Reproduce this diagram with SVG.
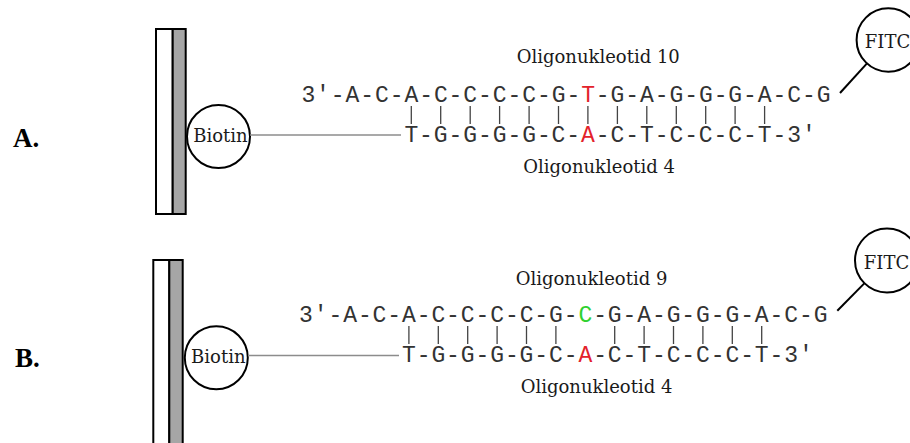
<svg xmlns="http://www.w3.org/2000/svg" width="910" height="443" viewBox="0 0 910 443">
<style>
.bg{fill:#ffffff}
.plate{fill:#ffffff;stroke:#000;stroke-width:2}
.plate2{fill:#a6a6a6;stroke:#000;stroke-width:2}
.circ{fill:#ffffff;stroke:#000;stroke-width:2}
.seq{font-family:"Liberation Mono","Courier New",monospace;font-size:23px;fill:#333}
.lbl{font-family:"DejaVu Serif","Liberation Serif",serif;font-size:18px;fill:#1a1a1a}
.panel{font-family:"Liberation Serif","DejaVu Serif",serif;font-size:27px;font-weight:bold;fill:#000}
.red{fill:#e3222b}
.green{fill:#2fd12f}
.bp{stroke:#444;stroke-width:1.3}
.link{stroke:#8c8c8c;stroke-width:1.5;fill:none}
.fl{stroke:#000;stroke-width:2;fill:none}
</style>
<rect class="bg" x="0" y="0" width="910" height="443"/>

<g id="panelA">
  <text class="panel" x="13" y="147">A.</text>
  <g id="plateA">
    <rect class="plate" x="156" y="29" width="16.7" height="185"/>
    <rect class="plate2" x="172.7" y="29" width="13" height="185"/>
  </g>
  <g id="biotinA">
    <circle class="circ" cx="218.5" cy="136.5" r="31.5"/>
    <text class="lbl" x="220.5" y="141.7" text-anchor="middle">Biotin</text>
  </g>
  <g id="fitcA">
    <circle class="circ" cx="888.3" cy="40" r="31.7"/>
    <text class="lbl" x="887.5" y="48.3" text-anchor="middle">FITC</text>
  </g>
  <g id="oligo10">
    <text class="lbl" x="516.7" y="63.3">Oligonukleotid 10</text>
    <text class="seq" x="301.4" y="101.7" letter-spacing="0.92">3'-A-C-A-C-C-C-C-G-<tspan class="red">T</tspan>-G-A-G-G-G-A-C-G</text>
  </g>
  <g id="oligo4A">
    <text class="seq" x="404.4" y="142" letter-spacing="0.92">T-G-G-G-G-C-<tspan class="red">A</tspan>-C-T-C-C-C-T-3'</text>
    <text class="lbl" x="523.3" y="173.3">Oligonukleotid 4</text>
  </g>
  <g id="connectorsA">
    <line class="link" x1="250" y1="135" x2="401" y2="135"/>
    <line class="fl" x1="840" y1="93" x2="867" y2="63.4"/>
    <g class="bp">
      <line x1="411.3" y1="106" x2="411.3" y2="124"/>
      <line x1="440.7" y1="106" x2="440.7" y2="124"/>
      <line x1="470.2" y1="106" x2="470.2" y2="124"/>
      <line x1="499.6" y1="106" x2="499.6" y2="124"/>
      <line x1="529.1" y1="106" x2="529.1" y2="124"/>
      <line x1="558.5" y1="106" x2="558.5" y2="124"/>
      <line x1="587.9" y1="106" x2="587.9" y2="124"/>
      <line x1="617.4" y1="106" x2="617.4" y2="124"/>
      <line x1="646.8" y1="106" x2="646.8" y2="124"/>
      <line x1="676.3" y1="106" x2="676.3" y2="124"/>
      <line x1="705.7" y1="106" x2="705.7" y2="124"/>
      <line x1="735.1" y1="106" x2="735.1" y2="124"/>
      <line x1="764.6" y1="106" x2="764.6" y2="124"/>
    </g>
  </g>
</g>

<g id="panelB">
  <text class="panel" x="15" y="367">B.</text>
  <g id="plateB">
    <rect class="plate" x="153.3" y="260" width="16" height="190"/>
    <rect class="plate2" x="169.3" y="260" width="13.4" height="190"/>
  </g>
  <g id="biotinB">
    <circle class="circ" cx="216.3" cy="357.8" r="31.5"/>
    <text class="lbl" x="218.3" y="363" text-anchor="middle">Biotin</text>
  </g>
  <g id="fitcB">
    <circle class="circ" cx="887" cy="260.5" r="32"/>
    <text class="lbl" x="886.5" y="269.3" text-anchor="middle">FITC</text>
  </g>
  <g id="oligo9">
    <text class="lbl" x="515.7" y="285">Oligonukleotid 9</text>
    <text class="seq" x="299.1" y="321.7" letter-spacing="0.9">3'-A-C-A-C-C-C-C-G-<tspan class="green">C</tspan>-G-A-G-G-G-A-C-G</text>
  </g>
  <g id="oligo4B">
    <text class="seq" x="402" y="362" letter-spacing="0.9">T-G-G-G-G-C-<tspan class="red">A</tspan>-C-T-C-C-C-T-3'</text>
    <text class="lbl" x="520.7" y="393.3">Oligonukleotid 4</text>
  </g>
  <g id="connectorsB">
    <line class="link" x1="248" y1="355.5" x2="399" y2="355.5"/>
    <line class="fl" x1="837.3" y1="310.7" x2="864.3" y2="283.4"/>
    <g class="bp">
      <line x1="408.9" y1="326" x2="408.9" y2="344"/>
      <line x1="438.3" y1="326" x2="438.3" y2="344"/>
      <line x1="467.7" y1="326" x2="467.7" y2="344"/>
      <line x1="497.1" y1="326" x2="497.1" y2="344"/>
      <line x1="526.5" y1="326" x2="526.5" y2="344"/>
      <line x1="555.9" y1="326" x2="555.9" y2="344"/>
      <line x1="614.7" y1="326" x2="614.7" y2="344"/>
      <line x1="644.1" y1="326" x2="644.1" y2="344"/>
      <line x1="673.5" y1="326" x2="673.5" y2="344"/>
      <line x1="702.9" y1="326" x2="702.9" y2="344"/>
      <line x1="732.3" y1="326" x2="732.3" y2="344"/>
      <line x1="761.7" y1="326" x2="761.7" y2="344"/>
    </g>
  </g>
</g>
</svg>
